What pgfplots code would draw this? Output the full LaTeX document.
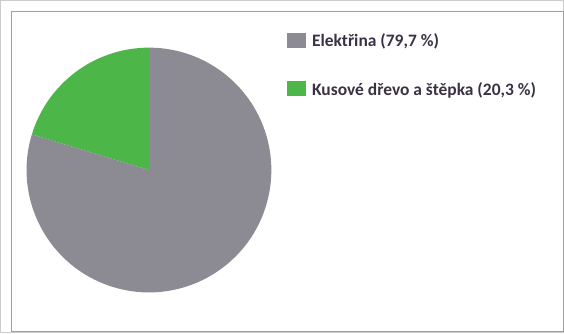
\documentclass[border=0pt]{standalone}
\usepackage{pgfplots}
\pgfplotsset{compat=1.18}
\usepackage{fontspec}
\setmainfont{Carlito}
\definecolor{piegray}{HTML}{8C8A93}
\definecolor{piegreen}{HTML}{4DB648}
\definecolor{txt}{HTML}{3A3242}
% data: share in percent
\def\valElektrina{79.7}
\def\valDrevo{20.3}
\begin{document}
\begin{tikzpicture}[x=1pt,y=1pt]
\begin{axis}[
  at={(0pt,0pt)}, anchor=origin,
  width=564pt, height=333pt, scale only axis,
  xmin=0, xmax=564, ymin=0, ymax=333,
  axis lines=none, clip=false,
  legend style={at={(axis cs:287,300)}, anchor=north west, draw=none, fill=none,
    font=\bfseries\fontsize{17.4}{20}\selectfont, text=txt,
    row sep=34pt, inner sep=0pt,
    nodes={inner sep=0pt, text depth=0pt},
    legend cell align=left},
  legend image code/.code={\fill[#1] (0pt,-7pt) rectangle (18pt,7pt);},
]
\addlegendimage{piegray}
\addlegendentry{\hspace{7pt}Elektřina (79,7 \%)}
\addlegendimage{piegreen}
\addlegendentry{\hspace{7pt}Kusové dřevo a štěpka (20,3 \%)}
% frame
\draw[gray!40, line width=1pt] (axis cs:2,1) rectangle (axis cs:563,332);
\draw[gray!75, line width=1.5pt] (axis cs:13,2) rectangle (axis cs:563,321);
% pie slices
\pgfmathsetmacro{\angB}{90+3.6*\valDrevo}
\fill[piegreen] (axis cs:150,163) -- ++(90:122) arc[start angle=90, end angle=\angB, radius=122] -- cycle;
\fill[piegray] (axis cs:150,163) -- ++(\angB:122) arc[start angle=\angB, end angle=450, radius=122] -- cycle;
\end{axis}
\end{tikzpicture}
\end{document}
